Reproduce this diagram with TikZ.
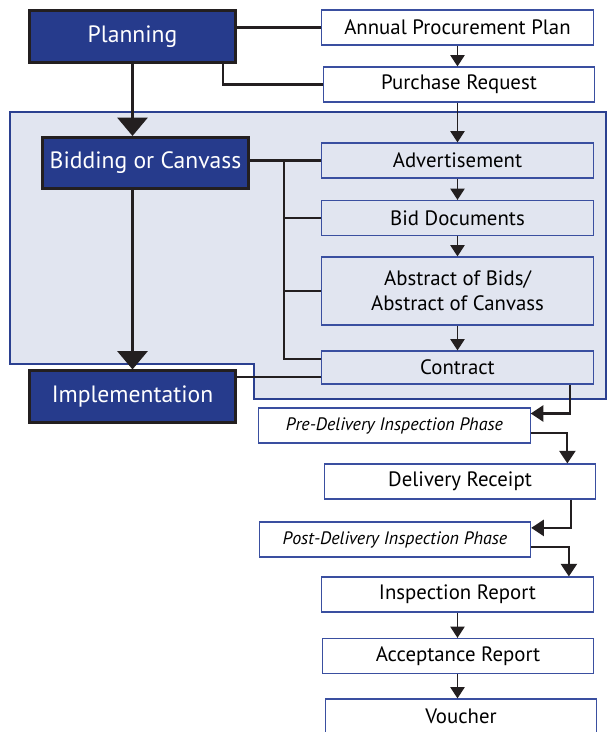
\documentclass[tikz,border=0pt]{standalone}
\usepackage{fontspec}
\setmainfont{PT Sans}
\usepackage{xcolor}
\usepackage{tikz}
\usetikzlibrary{positioning,arrows.meta}

\definecolor{phaseblue}{HTML}{263B8C}
\definecolor{boxblue}{HTML}{3A4FA0}
\definecolor{zonefill}{HTML}{E1E5F0}
\definecolor{zoneline}{HTML}{2B4090}
\definecolor{inkblack}{HTML}{231F20}

\begin{document}
\begin{tikzpicture}[x=0.025cm, y=-0.025cm,
  phasebox/.style={draw=inkblack, line width=2pt, fill=phaseblue, text=white,
    font=\fontsize{16.8}{19}\selectfont, minimum width=5.15cm, minimum height=1.28cm, inner sep=0pt},
  docbox/.style={draw=boxblue, line width=0.8pt, fill=white,
    font=\fontsize{14.8}{17.5}\selectfont, minimum width=6.78cm, minimum height=0.875cm, inner sep=0pt},
  zonebox/.style={docbox, fill=zonefill},
  phasebox2/.style={docbox, font=\fontsize{12.8}{15}\itshape\selectfont},
  bigarrow/.style={draw=inkblack, line width=2.8pt, -{Triangle[width=21pt,length=13pt]}},
  stepline/.style={draw=inkblack, line width=1.5pt},
  steparrow/.style={stepline, -{Triangle[width=11.5pt,length=9pt]}},
  thinarrow/.style={draw=inkblack, line width=1.3pt, -{Triangle[width=10pt,length=8pt]}}]

\clip (0,0) rectangle (608,732);
\useasboundingbox (0,0) rectangle (608,732);

% shaded bidding zone
\filldraw[fill=zonefill, draw=zoneline, line width=0.9pt]
  (10,112) -- (606,112) -- (606,399) -- (254,399) -- (254,364) -- (10,364) -- cycle;

% phases
\node[phasebox] (planning) at (132.5,36.5) {Planning};
\node[phasebox] (bidding) at (145.5,163) {Bidding or Canvass};
\node[phasebox] (implementation) at (132.5,396.5) {Implementation};

% documents
\node[docbox] (app) at (457.5,27.5) {Annual Procurement Plan};
\node[docbox] (pr) at (459,84.5) {Purchase Request};
\node[zonebox] (advert) at (457.5,160.5) {Advertisement};
\node[zonebox] (biddocs) at (457.5,218) {Bid Documents};
\node[zonebox, minimum height=1.7cm, align=center] (abstract) at (457.5,291)
  {Abstract of Bids/\\Abstract of Canvass};
\node[zonebox, minimum height=0.825cm] (contract) at (457.5,367.5) {Contract};
\node[phasebox2] (predelivery) at (394.5,425.5) {Pre-Delivery Inspection Phase};
\node[docbox] (receipt) at (460,481.5) {Delivery Receipt};
\node[phasebox2] (postdelivery) at (395,539.5) {Post-Delivery Inspection Phase};
\node[docbox] (inspection) at (457.5,594.5) {Inspection Report};
\node[docbox] (acceptance) at (458,656) {Acceptance Report};
\node[docbox] (voucher) at (461,716.5) {Voucher};

\coordinate (bus) at (284,160.5);

% phase flow
\draw[bigarrow] (planning.south) -- (planning.south |- bidding.north);
\draw[bigarrow] (bidding.south -| planning.south) -- (implementation.north);

% phase to documents
\draw[stepline] (app.west) -- (app.west -| planning.east);
\draw[stepline] ([xshift=-0.35cm]planning.south east) |- (pr.west);
\draw[stepline] (advert.west) -- (advert.west -| bidding.east);
\draw[stepline] (bus) |- ([yshift=0.21cm]contract.west);
\draw[stepline] (bus |- biddocs.west) -- (biddocs.west);
\draw[stepline] (bus |- abstract.west) -- (abstract.west);
\draw[stepline] ([yshift=-0.24cm]contract.west) -- ([yshift=-0.24cm]contract.west -| implementation.east);

% document flow
\draw[thinarrow] (app.south) -- (app.south |- pr.north);
\draw[thinarrow] (pr.south -| app.south) -- (advert.north);
\draw[thinarrow] (advert.south) -- (biddocs.north);
\draw[thinarrow] (biddocs.south) -- (abstract.north);
\draw[thinarrow] (abstract.south) -- (contract.north);
\draw[steparrow] ([xshift=-0.6cm]contract.south east) |- ([yshift=0.3cm]predelivery.east);
\draw[steparrow] ([yshift=-0.19cm]predelivery.east) -| ([xshift=-0.72cm]receipt.north east);
\draw[steparrow] ([xshift=-0.62cm]receipt.south east) |- ([yshift=0.29cm]postdelivery.east);
\draw[steparrow] ([yshift=-0.19cm]postdelivery.east) -| ([xshift=-0.62cm]inspection.north east);
\draw[thinarrow] (inspection.south) -- (inspection.south |- acceptance.north);
\draw[thinarrow] (acceptance.south -| inspection.south) -- (inspection.south |- voucher.north);

\end{tikzpicture}
\end{document}
